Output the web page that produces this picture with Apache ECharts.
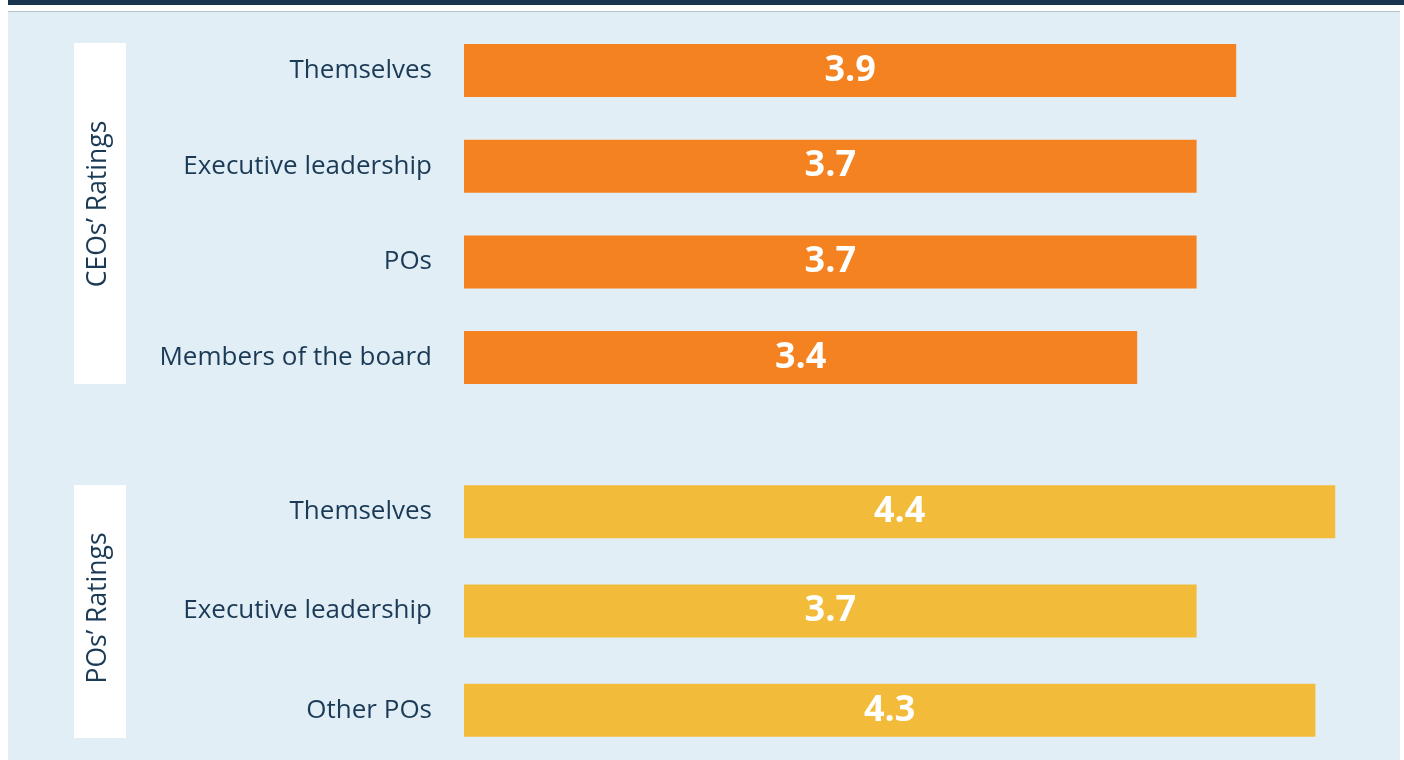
<!DOCTYPE html>
<html>
<head>
<meta charset="utf-8">
<script src="https://cdn.jsdelivr.net/npm/echarts@6/dist/echarts.min.js"></script>
<style>
    html, body { margin: 0; padding: 0; background: #ffffff; }
    #ratings-chart { width: 1404px; height: 760px; }
</style>
</head>
<body>
<div id="ratings-chart"></div>
<script>
// data
const ceoCategories = ['Themselves', 'Executive leadership', 'POs', 'Members of the board'];
const ceoValues = [3.9, 3.7, 3.7, 3.4];
const poCategories = ['Themselves', 'Executive leadership', 'Other POs'];
const poValues = [4.4, 3.7, 4.3];
const groupTitles = ['CEOs’ Ratings', 'POs’ Ratings'];

const TEXT_COLOR = '#1b3a56';
const FONT = '"Open Sans", "Noto Sans", sans-serif';

const chart = echarts.init(document.getElementById('ratings-chart'));

const makeYAxis = (gridIndex, cats) => ({
    type: 'category',
    gridIndex: gridIndex,
    data: cats,
    inverse: true,
    axisLine: { show: false },
    axisTick: { show: false },
    splitLine: { show: false },
    axisLabel: {
        color: TEXT_COLOR,
        fontSize: 26,
        fontFamily: FONT,
        margin: 32
    }
});

// hidden value axis, ~198px per rating point
const makeXAxis = (gridIndex) => ({
    type: 'value',
    gridIndex: gridIndex,
    min: 0,
    max: 4.7,
    show: false
});

const makeSeries = (idx, values, color) => ({
    type: 'bar',
    xAxisIndex: idx,
    yAxisIndex: idx,
    data: values,
    barWidth: 53,
    itemStyle: { color: color },
    label: {
        show: true,
        position: 'inside',
        color: '#ffffff',
        fontSize: 36,
        fontWeight: 'bold',
        fontFamily: FONT,
        formatter: (p) => p.value.toFixed(1)
    },
    silent: true
});

const option = {
    animation: false,
    backgroundColor: '#ffffff',
    graphic: [
        // panel background and header strip
        { type: 'rect', z: -10, shape: { x: 8, y: 0, width: 1396, height: 5 }, style: { fill: '#17354f' } },
        { type: 'rect', z: -10, shape: { x: 8, y: 11, width: 1392, height: 1 }, style: { fill: '#b9c1c9' } },
        { type: 'rect', z: -10, shape: { x: 8, y: 12, width: 1392, height: 748 }, style: { fill: '#e1eef6' } },
        // white side boxes
        { type: 'rect', z: -5, shape: { x: 74, y: 43, width: 52, height: 341 }, style: { fill: '#ffffff' } },
        { type: 'rect', z: -5, shape: { x: 74, y: 485, width: 52, height: 253 }, style: { fill: '#ffffff' } },
        {
            type: 'text', x: 98, y: 204, rotation: Math.PI / 2,
            style: { text: groupTitles[0], fill: TEXT_COLOR, font: '26.5px ' + FONT, textAlign: 'center', textVerticalAlign: 'middle' }
        },
        {
            type: 'text', x: 98, y: 608, rotation: Math.PI / 2,
            style: { text: groupTitles[1], fill: TEXT_COLOR, font: '26.5px ' + FONT, textAlign: 'center', textVerticalAlign: 'middle' }
        }
    ],
    grid: [
        { left: 464, width: 930.6, top: 22.7, height: 382.7 },
        { left: 464, width: 930.6, top: 462, height: 298 }
    ],
    xAxis: [makeXAxis(0), makeXAxis(1)],
    yAxis: [makeYAxis(0, ceoCategories), makeYAxis(1, poCategories)],
    series: [
        makeSeries(0, ceoValues, '#f58220'),
        makeSeries(1, poValues, '#f3bb3a')
    ]
};

chart.setOption(option);
</script>
</body>
</html>
